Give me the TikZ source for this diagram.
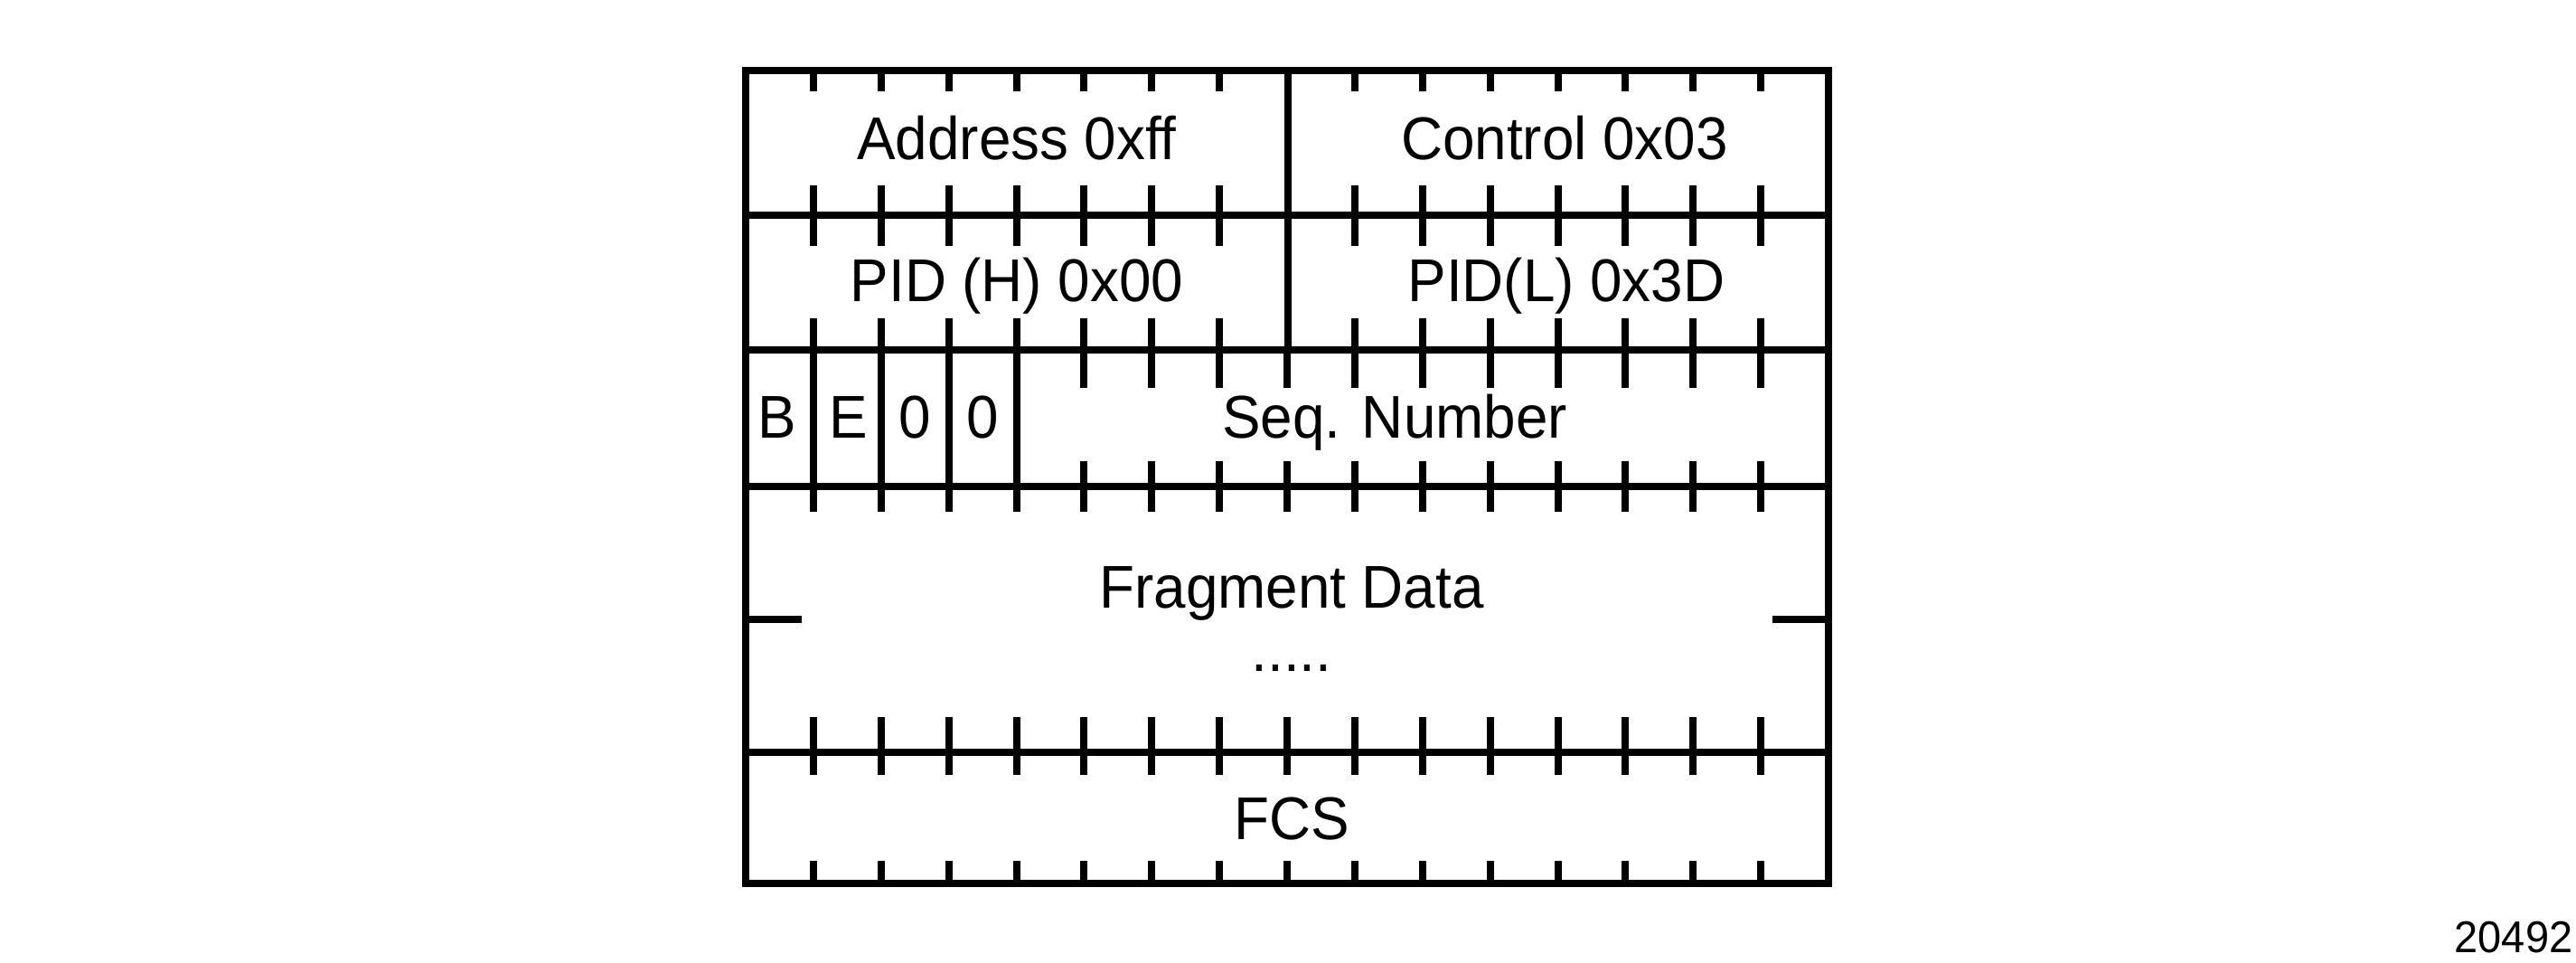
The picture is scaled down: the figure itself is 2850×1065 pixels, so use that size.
\documentclass[tikz,border=0pt]{standalone}
\usepackage{fontspec}
\setmainfont{Liberation Sans}[FakeStretch = 0.955]

\begin{document}
\begin{tikzpicture}[x = 0.1mm, y = -0.1mm]
	\tikzstyle{FrameStyle} = [line width = 0.75mm]
	\tikzstyle{TickStyle} = [line width = 0.8mm]
	\tikzstyle{FieldStyle} = [inner sep = 0pt, anchor = base, font = \fontsize{19}{22}\selectfont]
	\tikzstyle{TagStyle} = [inner sep = 0pt, anchor = base east, font = \fontsize{14}{16}\selectfont]
	\useasboundingbox (0,0) rectangle (2850,1065);
	% frame, rows and the byte divider
	\draw[FrameStyle] (825,78) rectangle (2023,977);
	\foreach \y in {238, 387, 538, 832}
		\draw[FrameStyle] (825,\y) -- (2023,\y);
	\draw[FrameStyle] (1425,78) -- (1425,387);
	% bit ticks
	\foreach \k in {1,...,7,9,10,...,15} {
		\draw[TickStyle] ({825+74.875*\k},78) -- ({825+74.875*\k},101);
		\draw[TickStyle] ({825+74.875*\k},205) -- ({825+74.875*\k},272);
	}
	\foreach \k in {5,6,7,9,10,...,15}
		\draw[TickStyle] ({825+74.875*\k},352) -- ({825+74.875*\k},387);
	\draw[TickStyle] ({825+74.875*8},387) -- ({825+74.875*8},429);
	\foreach \k in {5,...,15} {
		\draw[TickStyle] ({825+74.875*\k},387) -- ({825+74.875*\k},429);
		\draw[TickStyle] ({825+74.875*\k},510) -- ({825+74.875*\k},566);
	}
	\foreach \k in {1,...,4}
		\draw[TickStyle] ({825+74.875*\k},352) -- ({825+74.875*\k},566);
	\foreach \k in {1,...,15} {
		\draw[TickStyle] ({825+74.875*\k},793) -- ({825+74.875*\k},857);
		\draw[TickStyle] ({825+74.875*\k},952) -- ({825+74.875*\k},977);
	}
	\draw[FrameStyle] (825,685) -- (887,685);
	\draw[FrameStyle] (2023,685) -- (1961,685);
	% field labels
	\node[FieldStyle] (addr) at (1125,177) {Address 0xff};
	\node[FieldStyle] (ctrl) at (1731,177) {Control 0x03};
	\node[FieldStyle] (pidh) at (1125,334) {PID (H) 0x00};
	\node[FieldStyle] (pidl) at (1733,334) {PID(L) 0x3D};
	\node[FieldStyle] (bbit) at (860,485) {B};
	\node[FieldStyle] (ebit) at (939,485) {E};
	\node[FieldStyle] (zbita) at (1012,485) {0};
	\node[FieldStyle] (zbitb) at (1087,485) {0};
	\node[FieldStyle] (seq) at (1543,485) {Seq. Number};
	\node[FieldStyle] (frag) at (1429,672) {Fragment Data};
	\node[FieldStyle] (dots) at (1429,742) {.....};
	\node[FieldStyle] (fcs) at (1429,928) {FCS};
	\node[TagStyle] (tag) at (2847,1053) {20492};
\end{tikzpicture}
\end{document}
